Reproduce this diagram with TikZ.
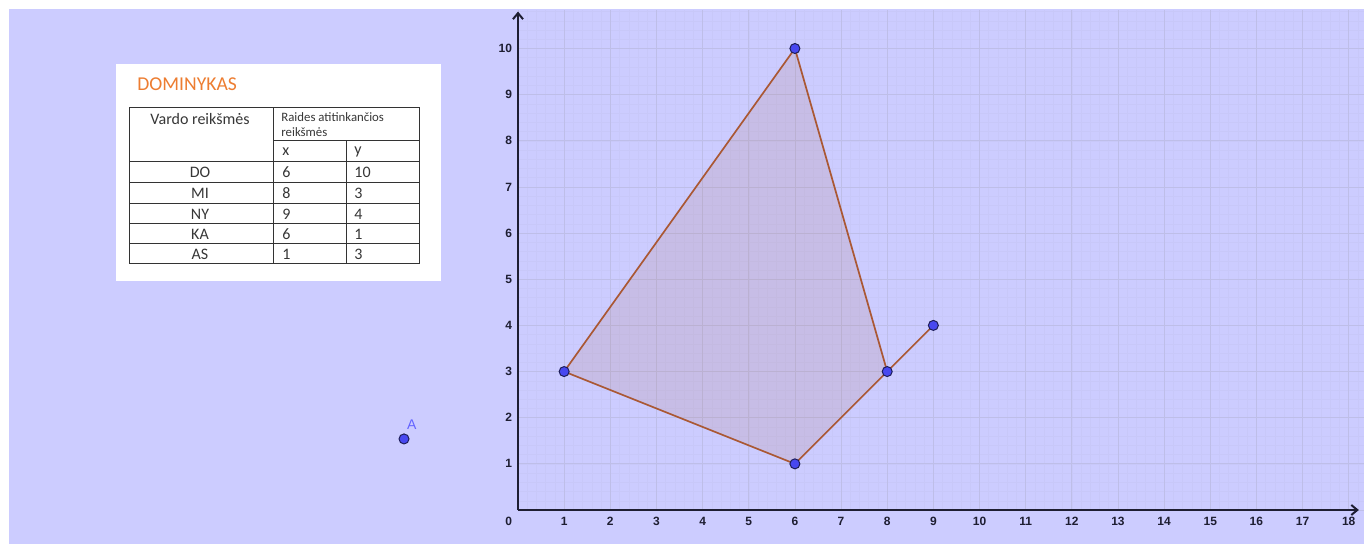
\documentclass[tikz,border=0pt]{standalone}
\usepackage{fontspec}
\setmainfont{Liberation Sans}
\newfontfamily\calibri{Carlito}
\usetikzlibrary{arrows.meta}
\definecolor{bg}{RGB}{204,204,255}
\definecolor{gmin}{RGB}{200,200,249}
\definecolor{gmaj}{RGB}{190,190,232}
\definecolor{edgec}{RGB}{170,88,52}
\definecolor{ptc}{RGB}{72,72,240}
\definecolor{ptline}{RGB}{30,30,90}
\definecolor{axisc}{RGB}{30,30,50}
\definecolor{titlec}{RGB}{237,125,49}
\definecolor{alabel}{RGB}{100,100,255}
\definecolor{tabtext}{RGB}{55,55,55}
\tikzset{
  tick/.style={font=\fontsize{6}{6}\selectfont\bfseries, text=axisc, inner sep=0pt},
  gpoint/.style={circle, fill=ptc, draw=ptline, line width=0.5pt, minimum size=5pt, inner sep=0pt},
  cell/.style={font=\calibri\fontsize{8}{8}\selectfont, text=tabtext, inner sep=0pt},
  small/.style={font=\calibri\fontsize{6.4}{7.5}\selectfont, text=tabtext, inner sep=0pt},
  tabline/.style={draw=black!80, line width=0.5pt},
  edgeline/.style={draw=edgec, line width=0.85pt},
}
\begin{document}
\begin{tikzpicture}[x=0.5pt,y=-0.5pt]
\useasboundingbox (0,0) rectangle (1364,544);
\fill[white] (0,0) rectangle (1364,544);
\fill[bg] (9,9) rectangle (1364,544);

% table panel
\fill[white] (116,64) rectangle (441,281);
\node[font=\calibri\fontsize{9.8}{9.8}\selectfont, text=titlec, anchor=west, inner sep=0pt] (title) at (137,84) {DOMINYKAS};
\draw[tabline] (129,108) rectangle (419,264);
\draw[tabline] (273,108) -- (273,264);
\draw[tabline] (346,141) -- (346,264);
\draw[tabline] (273,141) -- (419,141);
\foreach \yy in {162,183,204,224,244} \draw[tabline] (129,\yy) -- (419,\yy);
\node[cell] (hdr) at (200,119) {Vardo reikšmės};
\node[small, anchor=west] (hdr2a) at (281,117) {Raides atitinkančios};
\node[small, anchor=west] (hdr2b) at (281,132) {reikšmės};
\node[cell, anchor=west] (hx) at (282,152) {x};
\node[cell, anchor=west] (hy) at (354,152) {y};
\foreach \nm/\xv/\yv/\yy in {DO/6/10/172, MI/8/3/193, NY/9/4/214, KA/6/1/234, AS/1/3/254}{
  \node[cell] (n\nm) at (200,\yy) {\nm};
  \node[cell, anchor=west] (x\nm) at (282,\yy) {\xv};
  \node[cell, anchor=west] (y\nm) at (354,\yy) {\yv};
}

% graph
\begin{scope}[shift={(518,510)}, x=23.075pt, y=23.075pt]
  \draw[gmin, line width=0.25pt, step=0.2] (0,0) grid (18.33,10.83);
  \draw[gmaj, line width=0.4pt, step=1] (0,0) grid (18.33,10.83);
  \draw[axisc, line width=1pt, -{Straight Barb[length=3pt,width=5pt]}] (0,0) -- (0,10.8);
  \draw[axisc, line width=1pt, -{Straight Barb[length=3pt,width=5pt]}] (0,0) -- (18.22,0);
  \node[tick] (t0) at (-0.2,-0.24) {0};
  \foreach \i in {1,...,18} \node[tick] (tx\i) at (\i,-0.24) {\i};
  \foreach \i in {1,...,10} \node[tick, anchor=east] (ty\i) at (-0.12,\i) {\i};

  \coordinate (pDO) at (6,10);
  \coordinate (pMI) at (8,3);
  \coordinate (pNY) at (9,4);
  \coordinate (pKA) at (6,1);
  \coordinate (pAS) at (1,3);
  \fill[edgec, opacity=0.12] (pAS) -- (pDO) -- (pMI) -- (pKA) -- cycle;
  \draw[edgeline, line join=round] (pAS) -- (pDO) -- (pMI) -- (pKA) -- cycle;
  \draw[edgeline] (pMI) -- (pNY);
  \foreach \p in {DO,MI,NY,KA,AS} \node[gpoint] (\p) at (p\p) {};

  \node[gpoint] (A) at (-2.47,1.54) {};
  \node[font=\fontsize{7}{7}\selectfont, text=alabel, inner sep=0pt] (Alab) at (-2.30,1.84) {A};
\end{scope}
\end{tikzpicture}
\end{document}
